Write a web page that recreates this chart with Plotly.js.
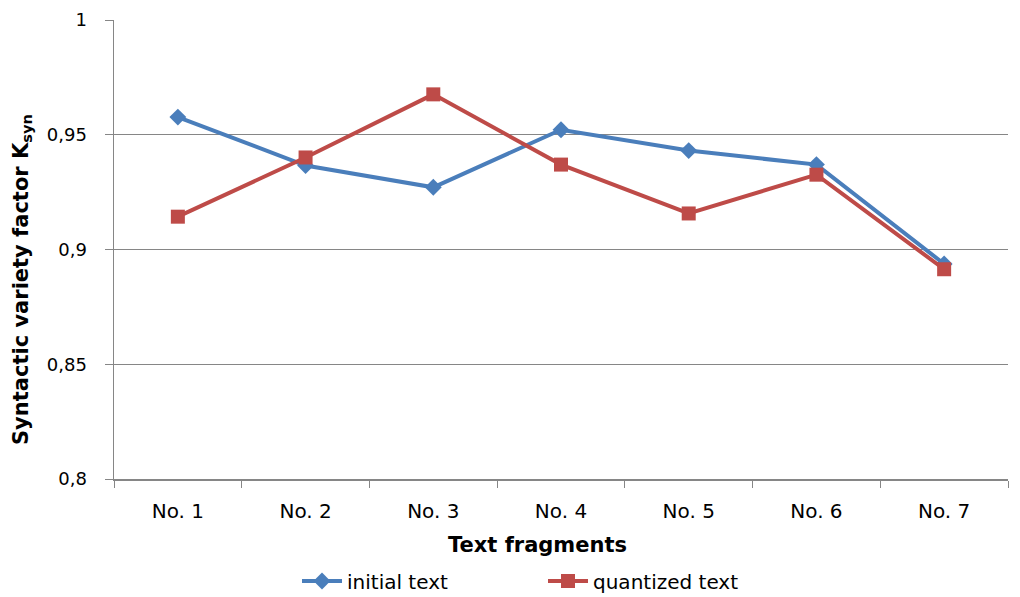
<!DOCTYPE html>
<html>
<head>
<meta charset="utf-8">
<script src="https://cdn.plot.ly/plotly-3.0.1.min.js"></script>
<style>html,body{margin:0;padding:0;background:#fff;}#chart{width:1020px;height:597px;}</style>
</head>
<body>
<div id="chart"></div>
<script>
const categories = ["No. 1", "No. 2", "No. 3", "No. 4", "No. 5", "No. 6", "No. 7"];
const initialText = [0.9577, 0.9366, 0.9271, 0.9522, 0.9431, 0.9370, 0.8937];
const quantizedText = [0.9143, 0.9401, 0.9676, 0.9370, 0.9157, 0.9326, 0.8914];
const seriesNames = ["initial text", "quantized text"];
const xTitle = "<b>Text fragments</b>";
const yTitle = "<b>Syntactic variety factor K<sub>syn</sub></b>";

const FONT = "DejaVu Sans, Verdana, sans-serif";
const traces = [
  {
    x: categories, y: initialText, name: seriesNames[0], type: "scatter", mode: "lines+markers",
    line: {color: "#4A7EBB", width: 4},
    marker: {symbol: "diamond", size: 13, color: "#4A7EBB"}
  },
  {
    x: categories, y: quantizedText, name: seriesNames[1], type: "scatter", mode: "lines+markers",
    line: {color: "#BE4B48", width: 4},
    marker: {symbol: "square", size: 14, color: "#BE4B48"}
  }
];
const layout = {
  width: 1020, height: 597,
  margin: {l: 114, r: 12, t: 20, b: 118, autoexpand: false},
  paper_bgcolor: "#fff", plot_bgcolor: "#fff",
  separators: ",.",
  font: {family: FONT, size: 20, color: "#000"},
  showlegend: true,
  legend: {orientation: "h", xref: "container", x: 297/1020, xanchor: "left",
           yref: "container", y: (597-581)/597, yanchor: "middle",
           font: {family: FONT, size: 20, color: "#000"}, itemwidth: 40, entrywidth: 191},
  xaxis: {
    type: "category", range: [-0.5, 6.5], automargin: false,
    tickson: "boundaries", ticks: "outside", ticklen: 7, tickcolor: "#868686", tickwidth: 1,
    ticklabelstandoff: 13,
    showline: true, linecolor: "#868686", linewidth: 1.5,
    showgrid: false, zeroline: false,
    tickfont: {family: FONT, size: 20, color: "#000"}
  },
  yaxis: {
    range: [0.8, 1], dtick: 0.05, tick0: 0.8, automargin: false,
    ticks: "outside", ticklen: 8, tickcolor: "#868686", tickwidth: 1,
    ticklabelstandoff: 14,
    showline: true, linecolor: "#868686", linewidth: 1.5,
    showgrid: true, gridcolor: "#868686", gridwidth: 1, zeroline: false,
    tickfont: {family: FONT, size: 18, color: "#000"}
  },
  annotations: [
    {text: xTitle, xref: "paper", yref: "paper", x: (537-114)/894, y: -(545-479)/459,
     xanchor: "center", yanchor: "middle", showarrow: false,
     font: {family: FONT, size: 21, color: "#000"}},
    {text: yTitle, xref: "paper", yref: "paper", x: 0, xshift: 22-114, y: (479-280)/459,
     xanchor: "center", yanchor: "middle", showarrow: false, textangle: -90,
     font: {family: FONT, size: 21, color: "#000"}}
  ]
};
Plotly.newPlot("chart", traces, layout, {displayModeBar: false, staticPlot: true});
</script>
</body>
</html>
